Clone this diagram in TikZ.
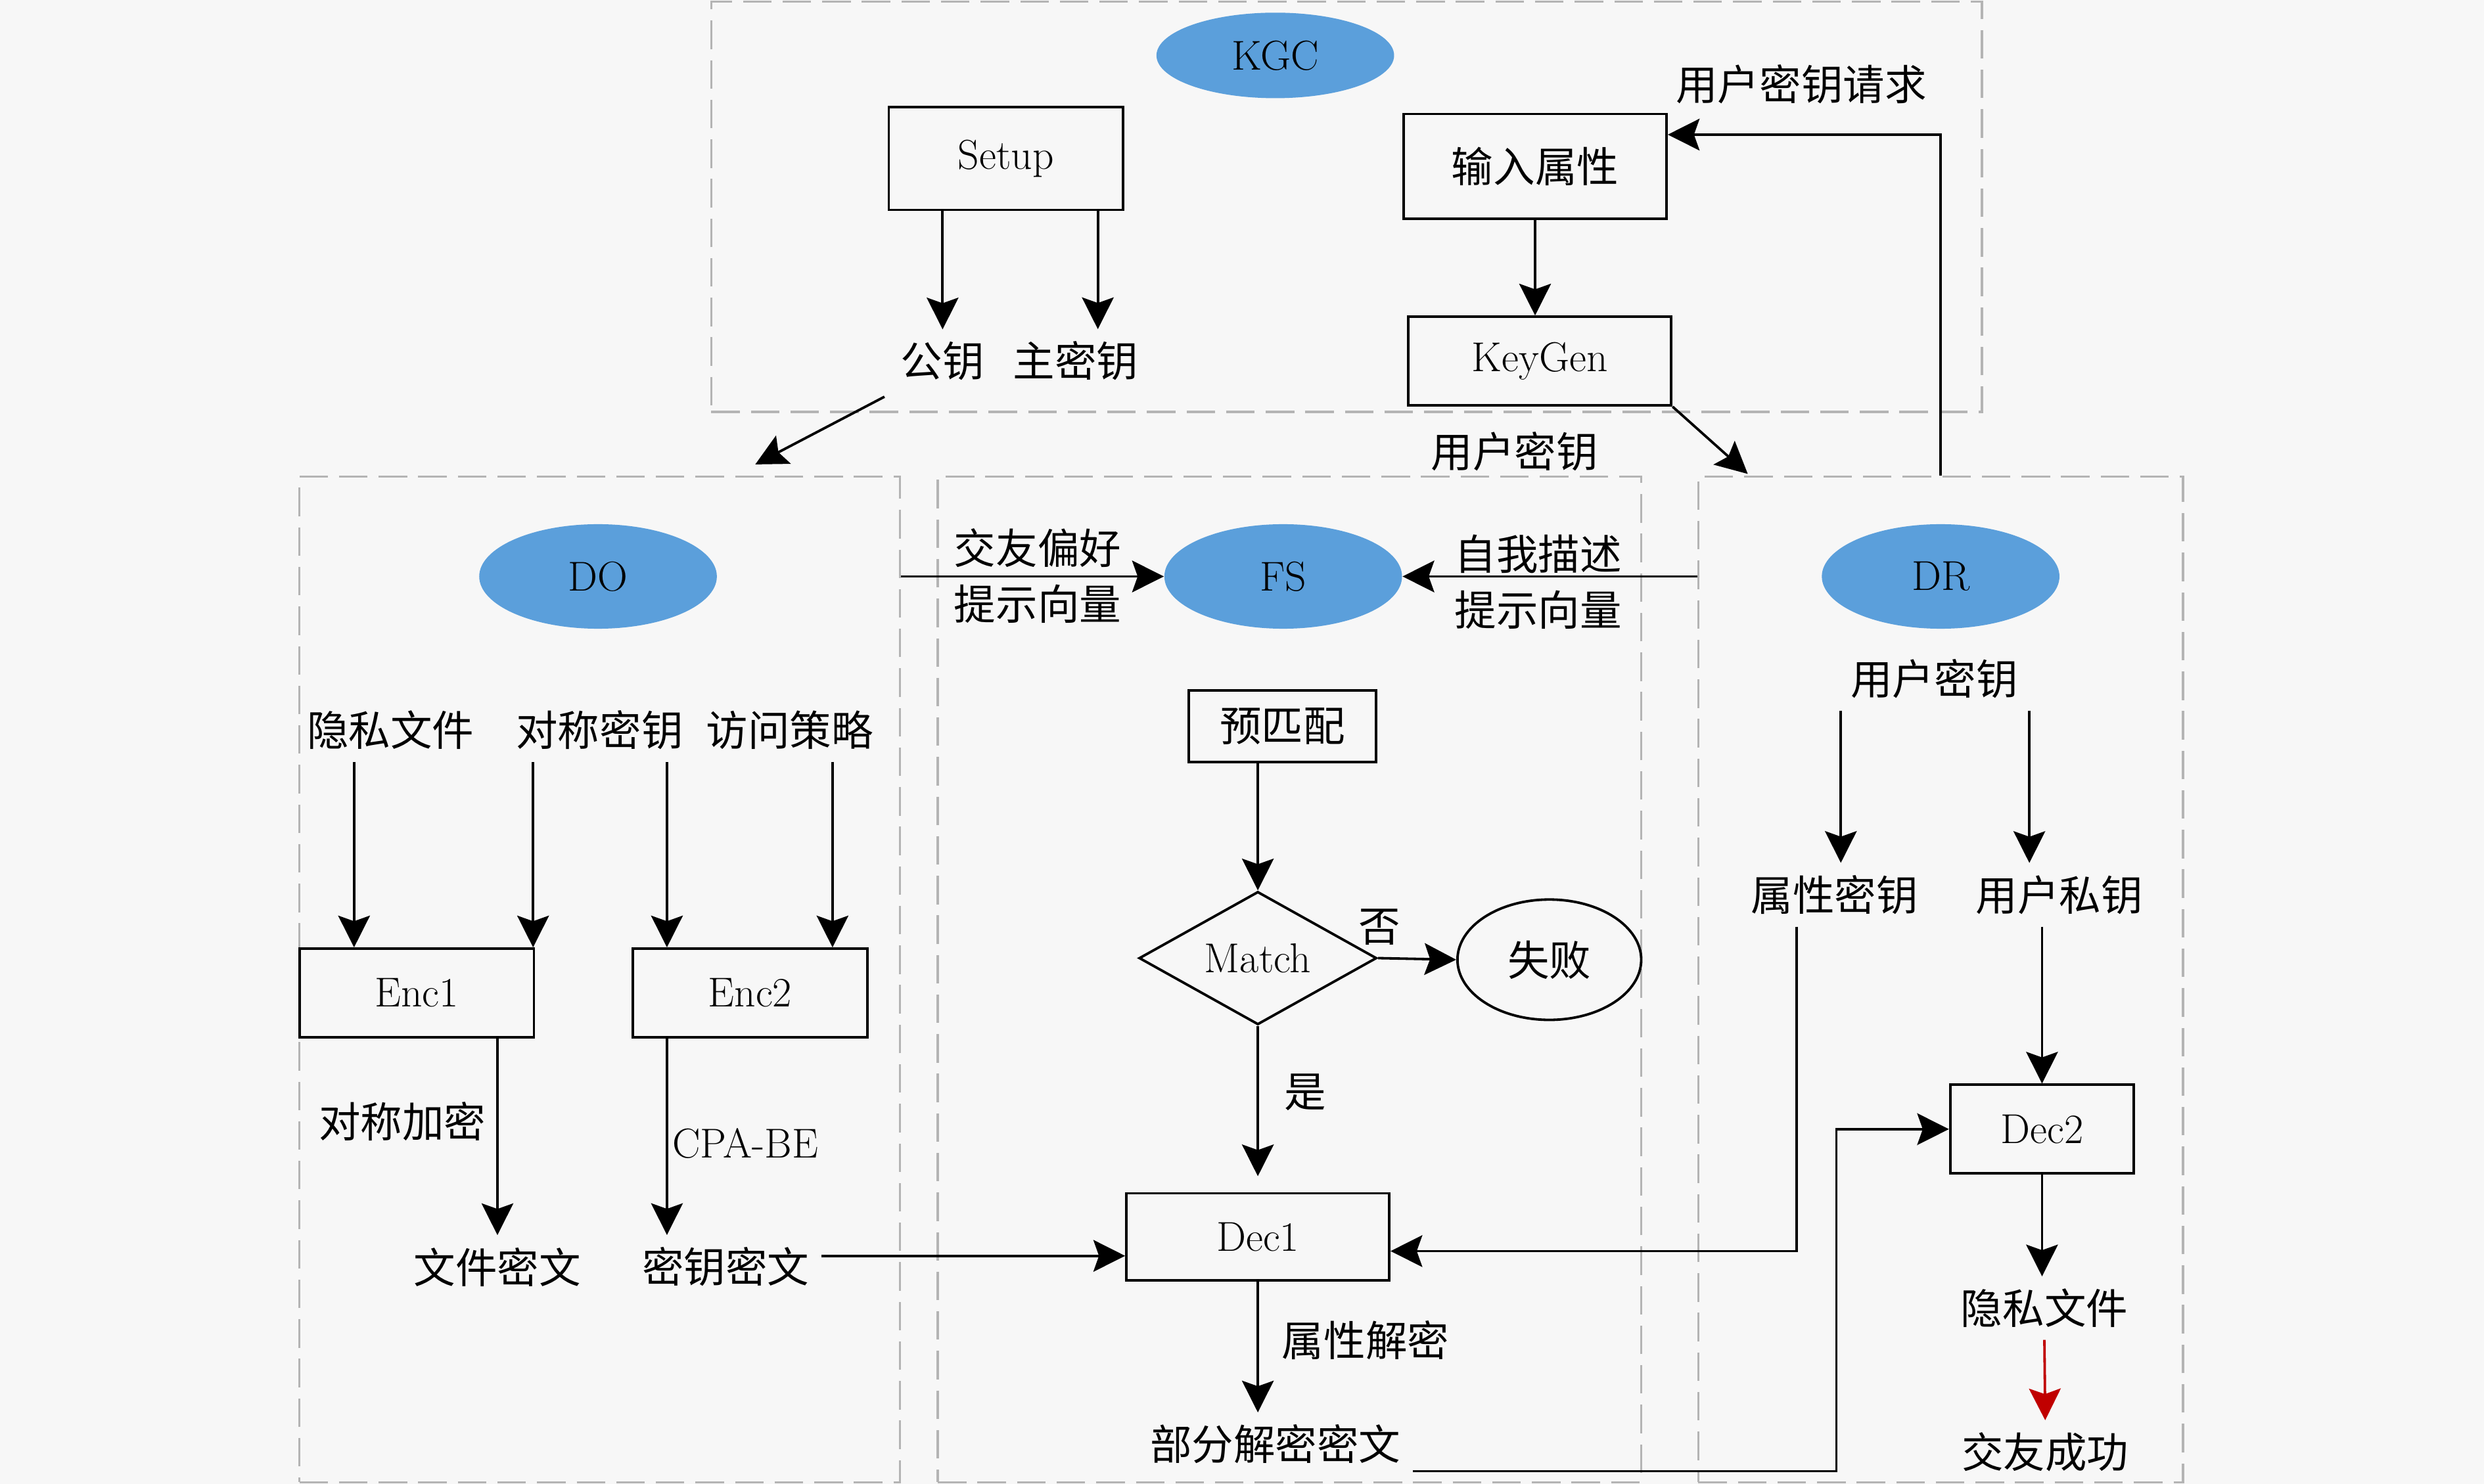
\documentclass[tikz,border=0pt]{standalone}
\usepackage{fontspec}
\newfontfamily\cjk{Noto Sans CJK SC}
\usepackage{xcolor}
\definecolor{paper}{HTML}{F7F7F7}
\definecolor{zoneline}{HTML}{B4B4B4}
\definecolor{actorblue}{HTML}{5B9FDB}
\definecolor{okred}{HTML}{C00000}
\usetikzlibrary{positioning,arrows.meta,shapes.geometric,calc}

\begin{document}
\begin{tikzpicture}[
  x=0.2mm,y=-0.2mm,
  font=\fontsize{15}{20}\selectfont,
  zone/.style={draw=zoneline,line width=0.3mm,dash pattern=on 3.6mm off 1.4mm,inner sep=0pt},
  actor/.style={ellipse,fill=actorblue,minimum width=30mm,minimum height=13.2mm,inner sep=0pt},
  proc/.style={draw,line width=0.9pt,fill=paper,minimum width=29.6mm,minimum height=11.2mm,inner sep=0pt},
  zh/.style={font=\cjk\fontsize{15}{20}\selectfont,inner sep=1.5mm},
  flow/.style={-{Stealth[length=4mm,width=4mm,inset=0.7mm]},line width=0.9pt}
]
\fill[paper] (0,0) rectangle (1568,937);
\useasboundingbox (0,0) rectangle (1568,937);

% dashed zones
\node[zone,minimum width=160.4mm,minimum height=51.8mm] (kgczone) at (850,130.5) {};
\node[zone,minimum width=75.8mm,minimum height=127mm] (dozone) at (378.5,618.5) {};
\node[zone,minimum width=88.8mm,minimum height=127mm] (fszone) at (814,618.5) {};
\node[zone,minimum width=61.2mm,minimum height=127mm] (drzone) at (1225,618.5) {};

% KGC
\node[actor,minimum height=10.8mm] (kgc) at (805,35) {KGC};
\node[proc,minimum height=13mm] (setup) at (635,100) {Setup};
\node[proc,minimum width=33.2mm,minimum height=13.2mm] (attrin) at (969,105) {\cjk 输入属性};
\node[proc,minimum width=33.2mm] (keygen) at (972,228) {KeyGen};
\node[zh] (pk) at (595,228) {公钥};
\node[zh] (msk) at (679,228) {主密钥};
\node[zh] (req) at (1137,53) {用户密钥请求};
\node[zh] (ukeylbl) at (956,285) {用户密钥};

% DO
\node[actor] (do) at (377.5,364) {DO};
\node[zh] (privf) at (246.5,461) {隐私文件};
\node[zh] (symk) at (378.5,461) {对称密钥};
\node[zh] (policy) at (498.5,461) {访问策略};
\node[proc] (enc1) at (263,627) {Enc1};
\node[proc] (enc2) at (473.5,627) {Enc2};
\node[zh] (symenc) at (254,708) {对称加密};
\node[anchor=west,inner sep=0pt] (cpabe) at (424,722) {CPA-BE};
\node[zh] (fcipher) at (314,800) {文件密文};
\node[zh] (kcipher) at (458,800) {密钥密文};

% FS
\node[actor] (fs) at (810,364) {FS};
\node[zh,align=center] (pref) at (655,363.5) {交友偏好\\提示向量};
\node[zh,align=center] (selfd) at (971,367.5) {自我描述\\提示向量};
\node[proc,minimum width=23.6mm,minimum height=9mm] (prem) at (809.5,458.6) {\cjk 预匹配};
\node[diamond,draw,line width=0.9pt,aspect=1.8,minimum width=30mm,minimum height=16.8mm,inner sep=0pt] (match) at (794,605) {Match};
\node[ellipse,draw,line width=0.9pt,minimum width=23.2mm,minimum height=15.2mm,inner sep=0pt] (fail) at (978,606) {\cjk 失败};
\node[proc,minimum width=33.2mm,minimum height=11mm] (dec1) at (794,781) {Dec1};
\node[zh] (partial) at (805,912) {部分解密密文};

% DR
\node[actor] (dr) at (1225,364) {DR};
\node[zh] (ukey) at (1221,428.5) {用户密钥};
\node[zh] (attrk) at (1158,565) {属性密钥};
\node[zh] (usk) at (1300,565) {用户私钥};
\node[proc,minimum width=23.2mm] (dec2) at (1289,713) {Dec2};
\node[zh] (plain) at (1290.5,826) {隐私文件};
\node[zh] (success) at (1291,917) {交友成功};

% KGC flows
\draw[flow] (setup.south -| pk.north) -- (pk.north);
\draw[flow] ([xshift=2.8mm]setup.south -| msk.north) -- ([xshift=2.8mm]msk.north);
\draw[flow] (attrin.south) -- (attrin.south |- keygen.north);
\draw[flow] (drzone.north) |- ([yshift=4mm]attrin.east);
\draw[flow] ([xshift=-0.5mm,yshift=-0.5mm]pk.south west) -- ([xshift=-18.4mm,yshift=1.4mm]dozone.north east);
\draw[flow] (keygen.south east) -- ([xshift=6.4mm,yshift=0.2mm]drzone.north west);

% DO flows
\draw[flow] ([xshift=-4.6mm]privf.south) -- ([xshift=-4.6mm]privf.south |- enc1.north);
\draw[flow] ([xshift=-8.4mm]symk.south) -- ([xshift=-8.4mm]symk.south |- enc1.north);
\draw[flow] ([xshift=8.5mm]symk.south) -- ([xshift=8.5mm]symk.south |- enc2.north);
\draw[flow] ([xshift=5.4mm]policy.south) -- ([xshift=5.4mm]policy.south |- enc2.north);
\draw[flow] (enc1.south -| fcipher.north) -- (fcipher.north);
\draw[flow] ([xshift=-7.4mm]enc2.south -| kcipher.north) -- ([xshift=-7.4mm]kcipher.north);
\draw[flow] ([yshift=1.4mm]kcipher.east) -- ([yshift=1.4mm]kcipher.east -| dec1.west);

% FS flows
\draw[flow] (fs.west -| dozone.east) -- (fs.west);
\draw[flow] (fs.east -| drzone.west) -- (fs.east);
\draw[flow] (prem.south -| match.north) -- (match.north);
\draw[flow] (match.east) -- node[zh,above,pos=0.02] (nolbl) {否} (fail.west);
\draw[flow,shorten >=2mm] (match.south) -- node[zh,right,pos=0.4,xshift=1.7mm] (yeslbl) {是} (match.south |- dec1.north);
\draw[flow] (dec1.south) -- node[zh,right,pos=0.45,xshift=1.4mm] (declbl) {属性解密} (dec1.south |- partial.north);

% DR flows
\draw[flow] ([xshift=0.8mm]ukey.south -| attrk.north) -- ([xshift=0.8mm]attrk.north);
\draw[flow] ([xshift=-3.8mm]ukey.south -| usk.north) -- ([xshift=-3.8mm]usk.north);
\draw[flow] ([xshift=-4.8mm]attrk.south) |- ([yshift=-1.8mm]dec1.east);
\draw[flow] (usk.south -| dec2.north) -- (dec2.north);
\draw[flow] ([yshift=-3.4mm]partial.east) -| ([xshift=-14.2mm]dec2.west) -- (dec2.west);
\draw[flow] (dec2.south) -- (dec2.south |- plain.north);
\draw[flow,okred] (plain.south) -- (success.north);
\end{tikzpicture}
\end{document}
